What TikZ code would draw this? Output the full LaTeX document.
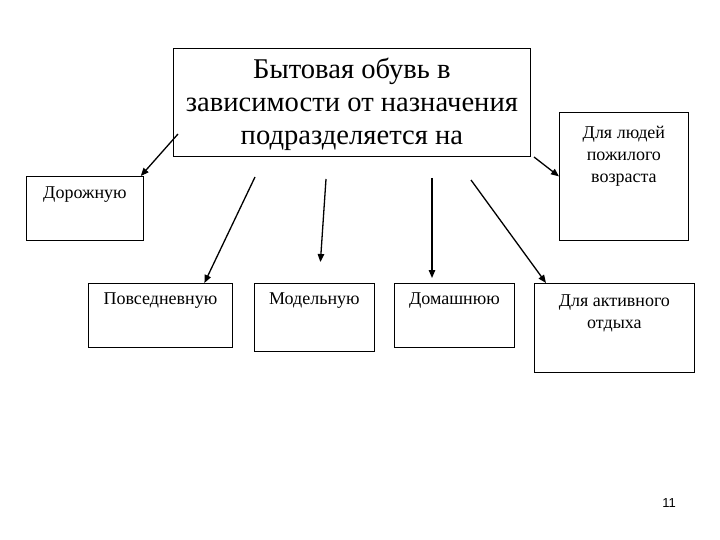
\documentclass[tikz,border=0pt]{standalone}
\usepackage{fontspec}
\setmainfont{Liberation Serif}
\newfontfamily\numfont{Liberation Sans}
\usetikzlibrary{arrows.meta,positioning,calc}
\tikzset{%
   bx/.style={
      draw=black,
      line width=0.8pt,
      rectangle,
      inner sep=0pt,
      anchor=north west
   },
   lbl/.style={
      inner sep=0pt,
      align=center,
      font=\fontsize{18}{22}\selectfont
   },
   biglbl/.style={
      inner sep=0pt,
      align=center,
      font=\fontsize{28.6}{33}\selectfont
   },
   arr/.style={
      line width=1.3pt,
      -{Triangle[length=8pt,width=6.5pt]}
   },
}
\begin{document}
\begin{tikzpicture}[x=1pt, y=-1pt]
   \useasboundingbox (0,0) rectangle (720,540);
   % boxes
   \node[bx, minimum width=357pt, minimum height=108pt] (top) at (173,48) {};
   \node[bx, minimum width=117pt, minimum height=64pt] (road) at (26,176) {};
   \node[bx, minimum width=129pt, minimum height=128pt] (elder) at (559,112) {};
   \node[bx, minimum width=144pt, minimum height=64pt] (daily) at (88,283) {};
   \node[bx, minimum width=120pt, minimum height=68pt] (model) at (254,283) {};
   \node[bx, minimum width=120pt, minimum height=64pt] (home) at (394,283) {};
   \node[bx, minimum width=160pt, minimum height=89pt] (active) at (534,283) {};
   % texts
   \node[biglbl, below=10pt of top.north] (topt) {Бытовая обувь в\\зависимости от назначения\\подразделяется на};
   \node[lbl, below=11pt of road.north] (roadt) {Дорожную};
   \node[lbl, below=14pt of elder.north] (eldert) {Для людей\\пожилого\\возраста};
   \node[lbl, below=10pt of daily.north] (dailyt) {Повседневную};
   \node[lbl, below=10pt of model.north] (modelt) {Модельную};
   \node[lbl, below=10pt of home.north] (homet) {Домашнюю};
   \node[lbl, below=12pt of active.north] (activet) {Для активного\\отдыха};
   \node[font=\numfont\fontsize{13}{15}\selectfont, inner sep=0pt] (num) at (669,503) {11};
   % arrows
   \coordinate (t1) at (178,134);
   \coordinate (t2) at (255,177);
   \coordinate (t3) at (326,179);
   \coordinate (t4) at (432,178);
   \coordinate (t5) at (471,180);
   \coordinate (t6) at (534,157);
   \draw[arr] (t1) -- ($(road.north east)+(-3,0)$);
   \draw[arr] (t2) -- ($(daily.north)+(44,0)$);
   \draw[arr] (t3) -- ($(model.north)+(6,-21)$);
   \draw[arr] (t4) -- ($(home.north west)+(38,-5)$);
   \draw[arr] (t5) -- ($(active.north west)+(12,0)$);
   \draw[arr] (t6) -- (elder.west);
\end{tikzpicture}
\end{document}
